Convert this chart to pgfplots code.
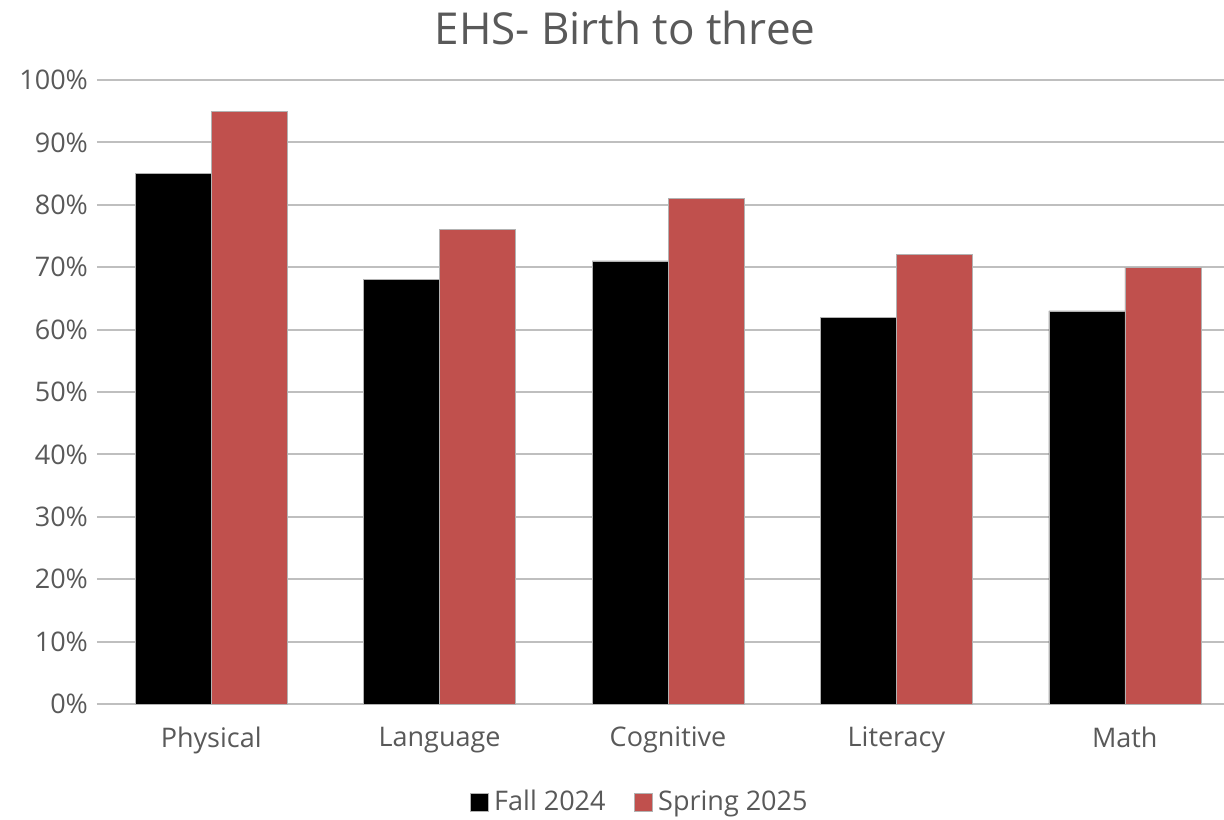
\documentclass[border=0pt]{standalone}
\usepackage{pgfplots}
\pgfplotsset{compat=1.18}
\usepackage{fontspec}
\setmainfont{Open Sans}
\definecolor{txt}{HTML}{595959}
\definecolor{gridc}{HTML}{BFBFBF}
\definecolor{redbar}{HTML}{C0504D}
\begin{document}
\begin{tikzpicture}
\begin{axis}[
  at={(0,0)}, anchor=south west,
  scale only axis, width=571pt, height=312pt,
  clip=false,
  ymin=0, ymax=100, ytick={0,10,...,100},
  xmin=-0.5, xmax=4.5, xtick={0,1,2,3,4},
  xticklabels={Physical,Language,Cognitive,Literacy,Math},
  yticklabel={\pgfmathprintnumber{\tick}\%},
  /pgf/number format/assume math mode=true,
  ymajorgrids, grid style={gridc, line width=1pt},
  separate axis lines,
  axis x line*=bottom, axis y line*=left,
  y axis line style={draw=none},
  x axis line style={gridc, line width=1pt, -},
  major tick length=0pt,
  tick label style={font=\fontsize{13.5}{16}\selectfont, text=txt},
  yticklabel style={xshift=-1pt},
  xticklabel style={yshift=-8pt},
  ybar, bar width=38pt,
  legend style={at={(axis description cs:0.476,0)}, anchor=center, yshift=-49pt,
    draw=none, font=\fontsize{13.5}{16}\selectfont, text=txt, legend columns=2,
    /tikz/every odd column/.append style={column sep=1pt},
    /tikz/every even column/.append style={column sep=12pt}},
  legend image code/.code={\fill[#1] (0pt,-4.5pt) rectangle (9pt,4.5pt);},
]
\addplot[fill=black, draw=gray!60, line width=0.3pt, bar shift=-19pt] coordinates {(0,85) (1,68) (2,71) (3,62) (4,63)};
\addplot[fill=redbar, draw=gray!60, line width=0.3pt, bar shift=19pt] coordinates {(0,95) (1,76) (2,81) (3,72) (4,70)};
\legend{Fall 2024, Spring 2025}
\end{axis}
\node[text=txt, font=\fontsize{22}{26}\selectfont, anchor=center] at (264pt,338pt) {EHS- Birth to three};
\pgfresetboundingbox
\path (-48.5pt,-57.5pt) rectangle (563.5pt,352pt);
\end{tikzpicture}
\end{document}
